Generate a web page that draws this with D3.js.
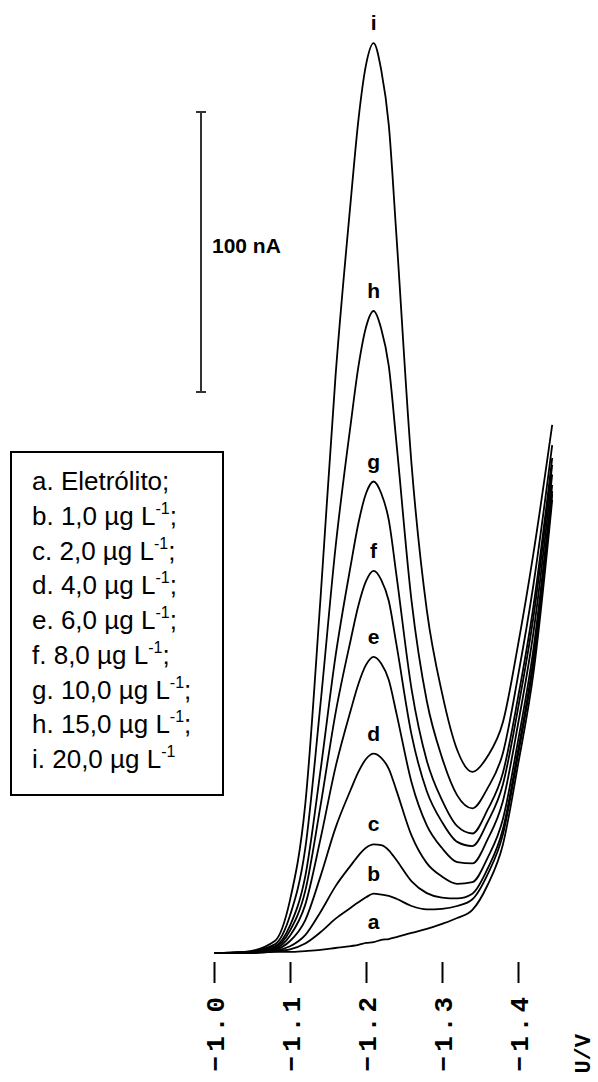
<!DOCTYPE html>
<html>
<head>
<meta charset="utf-8">
<script src="https://cdn.jsdelivr.net/npm/d3@7"></script>
<style>
  html, body { margin: 0; padding: 0; background: #fff; }
  svg { display: block; }
</style>
</head>
<body>
<svg id="chart" width="598" height="1082"></svg>
<script>
// Potential (V) at which each voltammogram was sampled
const potentials = [-1.00, -1.04, -1.08, -1.10, -1.12, -1.14, -1.16, -1.18, -1.19, -1.20,
                    -1.21, -1.22, -1.23, -1.24, -1.26, -1.28, -1.30, -1.32, -1.34, -1.36,
                    -1.38, -1.40, -1.42, -1.445];

// Current (nA) for each solution
const currentA = [0.7, 0.7, 1.1, 1.1, 1.4, 1.8, 2.5, 3.2, 3.6, 4.3, 4.6, 5.4, 5.7, 6.4, 7.9, 9.3, 11.1, 13.2, 16.1, 25.0, 39.3, 67.9, 100.0, 162.5];
const currentB = [0.7, 0.7, 1.3, 2.0, 4.1, 8.1, 13.0, 16.9, 18.8, 20.6, 21.9, 21.6, 21.1, 20.1, 17.5, 16.3, 16.5, 17.5, 19.9, 28.8, 42.9, 71.3, 103.4, 164.6];
const currentC = [0.7, 0.8, 1.5, 3.1, 7.1, 15.3, 24.6, 32.0, 35.5, 38.3, 39.5, 39.2, 37.4, 33.9, 26.3, 22.1, 20.5, 20.2, 21.9, 30.8, 44.8, 73.0, 105.1, 165.7];
const currentD = [0.7, 0.8, 1.9, 5.0, 12.4, 28.0, 45.5, 59.1, 65.4, 70.0, 71.9, 70.4, 66.5, 58.8, 42.6, 32.8, 28.0, 25.4, 26.0, 34.7, 48.4, 76.4, 108.6, 167.9];
const currentE = [0.7, 0.8, 2.3, 6.9, 17.9, 41.3, 67.2, 87.5, 96.8, 103.6, 106.5, 104.1, 98.2, 86.4, 61.6, 46.3, 38.2, 33.2, 32.7, 41.3, 54.8, 82.4, 114.6, 171.6];
const currentF = [0.7, 0.9, 2.7, 8.7, 22.8, 53.1, 86.5, 112.7, 124.8, 133.5, 137.2, 134.0, 126.4, 111.0, 78.6, 58.5, 47.5, 40.4, 38.9, 47.5, 60.8, 88.0, 120.1, 175.0];
const currentG = [0.7, 0.9, 3.1, 10.5, 28.0, 65.6, 106.9, 139.3, 154.2, 164.8, 169.1, 164.9, 155.3, 135.8, 94.9, 69.4, 55.3, 46.0, 43.4, 51.9, 64.9, 91.9, 124.0, 177.5];
const currentH = [0.7, 1.0, 3.8, 14.1, 37.9, 89.3, 145.8, 189.9, 210.1, 224.2, 230.0, 223.7, 210.3, 183.1, 126.3, 90.7, 70.5, 57.0, 52.4, 59.6, 72.0, 99.6, 131.7, 182.1];
const currentI = [0.7, 1.1, 5.0, 19.6, 53.6, 126.8, 207.1, 269.6, 298.2, 317.9, 325.7, 316.1, 296.4, 257.1, 175.0, 123.2, 93.6, 73.2, 65.4, 71.0, 83.0, 110.7, 142.9, 189.3];

const curveLetters = ["a", "b", "c", "d", "e", "f", "g", "h", "i"];
const curveCurrents = [currentA, currentB, currentC, currentD, currentE, currentF, currentG, currentH, currentI];

// Legend entries: main text, superscript and trailing punctuation
const legendMain = ["a. Eletrólito;", "b. 1,0 µg L", "c. 2,0 µg L", "d. 4,0 µg L", "e. 6,0 µg L",
                    "f. 8,0 µg L", "g. 10,0 µg L", "h. 15,0 µg L", "i. 20,0 µg L"];
const legendSup = ["", "-1", "-1", "-1", "-1", "-1", "-1", "-1", "-1"];
const legendTail = ["", ";", ";", ";", ";", ";", ";", ";", ""];

const tickValues = [-1.0, -1.1, -1.2, -1.3, -1.4];
const tickLabels = ["−1.0", "−1.1", "−1.2", "−1.3", "−1.4"];
const axisTitle = "U/V";
const scaleBarValue = 100;
const scaleBarLabel = "100 nA";
const peakPotential = -1.21;

const svg = d3.select("#chart");

const x = d3.scaleLinear().domain([-1.0, -1.4]).range([214, 518]);
const y = d3.scaleLinear().domain([0, 100]).range([955, 675]);

// Voltammograms
const line = d3.line()
  .x(d => x(d[0]))
  .y(d => y(d[1]))
  .curve(d3.curveMonotoneX);

svg.append("g")
  .selectAll("path")
  .data(curveCurrents)
  .join("path")
  .attr("d", vals => line(potentials.map((p, k) => [p, vals[k]])))
  .attr("fill", "none")
  .attr("stroke", "#000")
  .attr("stroke-width", 1.8)
  .attr("stroke-linejoin", "round");

// Letters above each peak
const peakIndex = potentials.indexOf(peakPotential);
svg.append("g")
  .selectAll("text")
  .data(curveLetters)
  .join("text")
  .attr("x", x(peakPotential))
  .attr("y", (d, k) => y(curveCurrents[k][peakIndex]) - 13)
  .attr("text-anchor", "middle")
  .attr("font-family", "'Liberation Sans', Arial, sans-serif")
  .attr("font-weight", "bold")
  .attr("font-size", 21)
  .text(d => d);

// Potential axis: short vertical ticks with rotated labels
const axis = d3.axisBottom(x)
  .tickValues(tickValues)
  .tickSize(21)
  .tickFormat((d, k) => tickLabels[k]);

const axisG = svg.append("g")
  .attr("transform", "translate(0,962)")
  .call(axis);
axisG.select(".domain").remove();
axisG.selectAll(".tick line").attr("stroke", "#000").attr("stroke-width", 2);
axisG.selectAll(".tick text")
  .attr("x", 0).attr("y", 0).attr("dy", null)
  .attr("transform", "translate(9,31) rotate(-90)")
  .attr("text-anchor", "end")
  .attr("fill", "#000")
  .attr("font-family", "'Liberation Mono', 'DejaVu Sans Mono', monospace")
  .attr("font-weight", "bold")
  .attr("font-size", 26)
  .attr("letter-spacing", 4);

svg.append("text")
  .attr("transform", "translate(590,1034) rotate(-90)")
  .attr("text-anchor", "end")
  .attr("font-family", "'Liberation Mono', 'DejaVu Sans Mono', monospace")
  .attr("font-weight", "bold")
  .attr("font-size", 22)
  .text(axisTitle);

// Current scale bar
const barTop = 112;
const barLen = y(0) - y(scaleBarValue);
const bar = svg.append("g").attr("stroke", "#333").attr("stroke-width", 2);
bar.append("line").attr("x1", 201).attr("x2", 201).attr("y1", barTop).attr("y2", barTop + barLen);
bar.append("line").attr("x1", 196).attr("x2", 206).attr("y1", barTop).attr("y2", barTop);
bar.append("line").attr("x1", 196).attr("x2", 206).attr("y1", barTop + barLen).attr("y2", barTop + barLen);
svg.append("text")
  .attr("x", 212).attr("y", 253)
  .attr("font-family", "'Liberation Sans', Arial, sans-serif")
  .attr("font-weight", "bold")
  .attr("font-size", 21)
  .text(scaleBarLabel);

// Legend box
const legend = svg.append("g");
legend.append("rect")
  .attr("x", 11).attr("y", 452).attr("width", 212).attr("height", 343)
  .attr("fill", "#fff").attr("stroke", "#000").attr("stroke-width", 2);
const rows = legend.selectAll("text")
  .data(legendMain)
  .join("text")
  .attr("x", 32)
  .attr("y", (d, k) => 490 + k * 34.75)
  .attr("font-family", "'Liberation Sans', Arial, sans-serif")
  .attr("font-size", 26)
  .attr("fill", "#000");
rows.append("tspan").text(d => d);
rows.append("tspan")
  .attr("font-size", 16)
  .attr("dy", -11)
  .text((d, k) => legendSup[k]);
rows.append("tspan")
  .attr("dy", 11)
  .text((d, k) => legendTail[k]);
</script>
</body>
</html>
